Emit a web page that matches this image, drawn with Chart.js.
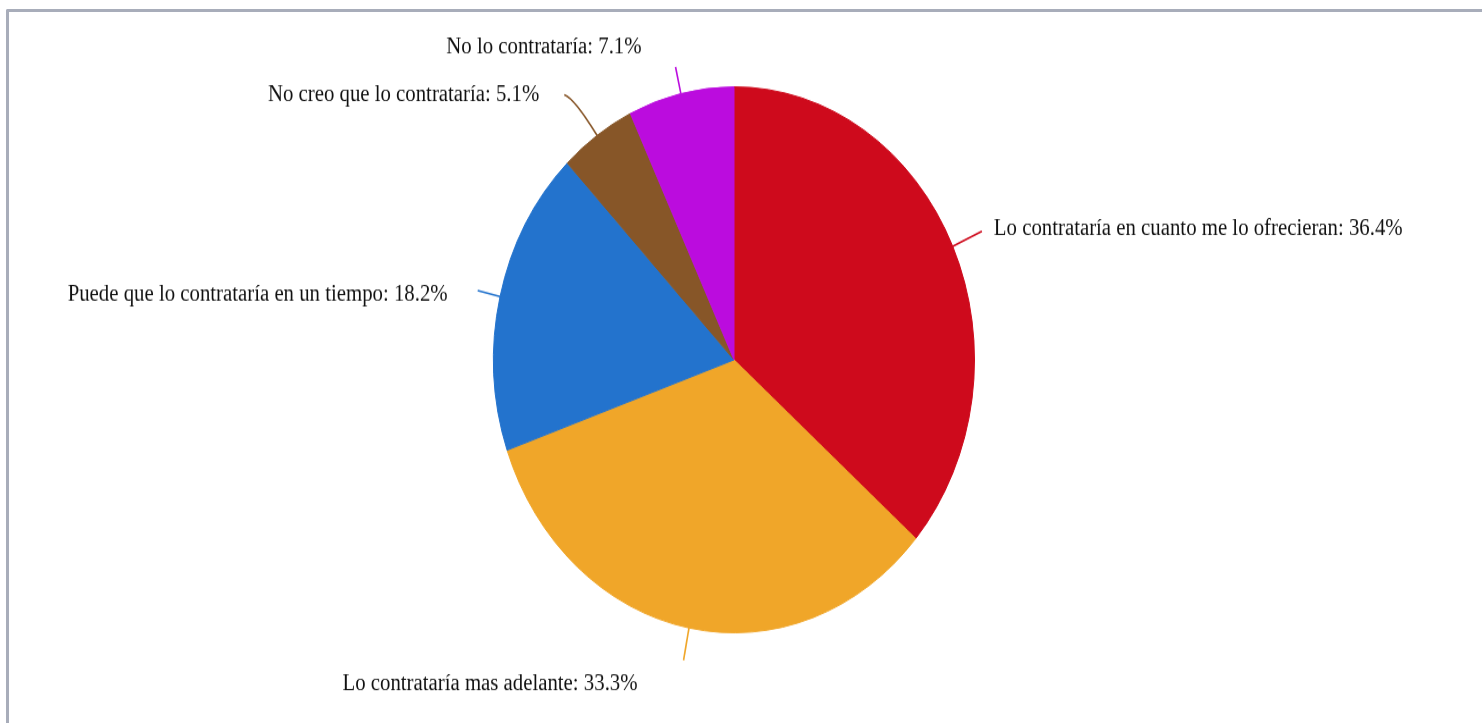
<!DOCTYPE html>
<html>
<head>
<meta charset="utf-8">
<script src="https://cdn.jsdelivr.net/npm/chart.js@4"></script>
<style>
  html, body { margin: 0; padding: 0; background: #fff; overflow: hidden; }
  .frame {
    position: absolute; left: 6px; top: 9px; width: 1500px; height: 740px;
    border-top: 3px solid #a8adba; border-left: 3px solid #a8adba;
    border-top-left-radius: 2px; box-sizing: border-box;
  }
  #pie {
    position: absolute; left: 0; top: 0;
    transform-origin: 0 0; transform: scaleY(1.135);
  }
</style>
</head>
<body>
<div class="frame"></div>
<canvas id="pie" width="1482" height="637"></canvas>
<script>
// respuestas de la encuesta
const labels = [
  "Lo contrataría en cuanto me lo ofrecieran",
  "Lo contrataría mas adelante",
  "Puede que lo contrataría en un tiempo",
  "No creo que lo contrataría",
  "No lo contrataría",
];
const values = [36.4, 33.3, 18.2, 5.1, 7.1];
const colors = ["#ce0a1c", "#f0a629", "#2373cd", "#875628", "#bb0cde"];

// lineas guia: largo, gancho horizontal y posicion del texto
const leaderLen = [32, 29, 23, 40, 24];
const leaderHook = [0, 0, 0, -10, 0];
const labelOffsets = [[12, 3.5], [-46, 26.4], [-30, 9.4], [-25, 5.7], [-34, -12.3]];

const outsideLabels = {
  id: "outsideLabels",
  afterDatasetsDraw(chart) {
    const ctx = chart.ctx;
    const meta = chart.getDatasetMeta(0);
    meta.data.forEach((arc, i) => {
      const { x, y, startAngle, endAngle, outerRadius } = arc.getProps(
        ["x", "y", "startAngle", "endAngle", "outerRadius"], true);
      const mid = (startAngle + endAngle) / 2;
      const cx = Math.cos(mid), sy = Math.sin(mid);
      const p0 = [x + outerRadius * cx, y + outerRadius * sy];
      const p1 = [x + (outerRadius + leaderLen[i]) * cx, y + (outerRadius + leaderLen[i]) * sy];
      let end = p1;

      ctx.save();
      ctx.strokeStyle = colors[i];
      ctx.lineWidth = 1.6;
      ctx.beginPath();
      ctx.moveTo(p0[0], p0[1]);
      if (leaderHook[i]) {
        end = [p1[0] + leaderHook[i], p1[1] - 3];
        ctx.quadraticCurveTo(p1[0], p1[1], end[0], end[1]);
      } else {
        ctx.lineTo(p1[0], p1[1]);
      }
      ctx.stroke();

      ctx.fillStyle = "#111";
      ctx.font = '20.8px "Liberation Serif", "Times New Roman", serif';
      ctx.textAlign = cx >= 0 ? "left" : "right";
      ctx.textBaseline = "alphabetic";
      const txt = labels[i] + ": " + values[i].toFixed(1) + "%";
      ctx.fillText(txt, end[0] + labelOffsets[i][0], end[1] + labelOffsets[i][1]);
      ctx.restore();
    });
  },
};

const ctx = document.getElementById("pie").getContext("2d");
const chart = new Chart(ctx, {
  type: "pie",
  data: {
    labels: labels,
    datasets: [
      {
        data: values,
        backgroundColor: colors,
        // mismo color en el borde para que no se vean costuras blancas
        borderColor: colors,
        borderWidth: 1,
      },
    ],
  },
  options: {
    responsive: false,
    animation: false,
    layout: { padding: { top: 76, bottom: 79, left: 0, right: 14 } },
    plugins: {
      legend: { display: false },
      tooltip: { enabled: false },
    },
  },
  plugins: [outsideLabels],
});
</script>
</body>
</html>
